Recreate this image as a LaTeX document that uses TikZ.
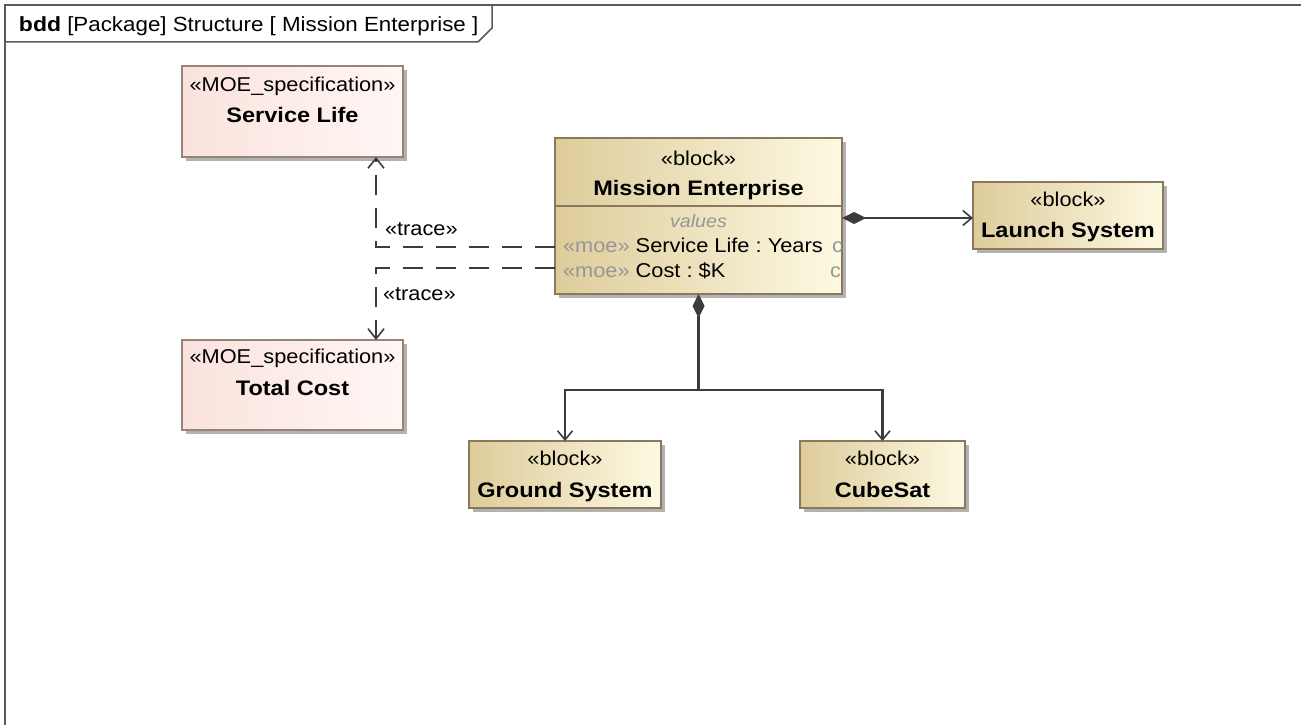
\documentclass[tikz,border=0pt]{standalone}
\usepackage{fontspec}
\setmainfont{Liberation Sans}[FakeStretch=1.09,BoldFeatures={FakeStretch=1.12}]
\frenchspacing
\usetikzlibrary{arrows.meta,shadows}
\definecolor{blockL}{RGB}{222,204,155}
\definecolor{blockR}{RGB}{253,249,226}
\definecolor{blockEdge}{RGB}{138,120,92}
\definecolor{moeL}{RGB}{250,226,220}
\definecolor{moeR}{RGB}{255,247,245}
\definecolor{moeEdge}{RGB}{150,132,120}
\definecolor{lineC}{RGB}{60,60,60}
\definecolor{greyTxt}{RGB}{150,150,150}
\definecolor{frameC}{RGB}{90,90,90}
\begin{document}
\begin{tikzpicture}[x=1pt,y=-1pt,
  every node/.style={inner sep=0pt,outer sep=0pt},
  boxshadow/.style={drop shadow={shadow xshift=4pt,shadow yshift=-4pt,fill=black!30,opacity=1}},
  blockbox/.style={draw=blockEdge,line width=1.4pt,left color=blockL,right color=blockR,boxshadow,anchor=north west},
  moebox/.style={draw=moeEdge,line width=1.4pt,left color=moeL,right color=moeR,boxshadow,anchor=north west},
  stereo/.style={font=\fontsize{20}{24}\selectfont,anchor=base},
  bname/.style={font=\fontsize{21}{25}\selectfont\bfseries,anchor=base},
  rowtxt/.style={font=\fontsize{20}{24}\selectfont,anchor=base west},
  comp/.style={draw=lineC,line width=2.2pt,{Diamond[length=24pt,width=12pt,fill=lineC]}-{Straight Barb[length=9pt,width=15pt,line width=1.6pt]}},
  compstart/.style={draw=lineC,line width=2.2pt,{Diamond[length=24pt,width=12pt,fill=lineC]}-},
  partarrow/.style={draw=lineC,line width=2.2pt,-{Straight Barb[length=9pt,width=15pt,line width=1.6pt]}},
  traceline/.style={draw=lineC,line width=2pt,dash pattern=on 20pt off 13pt,-{Straight Barb[length=10pt,width=16pt,line width=1.6pt]}},
  tracelbl/.style={font=\fontsize{20}{24}\selectfont,anchor=base west}]
\useasboundingbox (0,0) rectangle (1301,725);
\clip (0,0) rectangle (1301,725);
\fill[white] (0,0) rectangle (1301,725);
% frame
\draw[frameC,line width=1.8pt] (5,740) -- (5,5) -- (1310,5);
\draw[frameC,line width=1.5pt] (5,42) -- (478,42) -- (492,28) -- (492,5);
\node[font=\fontsize{20.5}{24}\selectfont,anchor=base west] (title) at (19,32)
  {\textbf{bdd} [Package] Structure [ Mission Enterprise ]};
% boxes
\node[moebox,minimum width=221pt,minimum height=91pt] (servlife) at (182,66) {};
\node[moebox,minimum width=221pt,minimum height=90pt] (totalcost) at (182,340) {};
\node[blockbox,minimum width=287pt,minimum height=156pt] (me) at (555,138) {};
\node[blockbox,minimum width=190pt,minimum height=67pt] (launch) at (973,182) {};
\node[blockbox,minimum width=192pt,minimum height=67pt] (ground) at (469,441) {};
\node[blockbox,minimum width=165pt,minimum height=67pt] (cubesat) at (800,441) {};
% compartment line
\draw[blockEdge,line width=1.2pt] (me.west |- 0,206) -- (me.east |- 0,206);
% texts
\node[stereo] (slst) at (servlife.center |- 0,92) {«MOE\_specification»};
\node[bname] (slnm) at (servlife.center |- 0,122) {Service Life};
\node[stereo] (tcst) at (totalcost.center |- 0,363) {«MOE\_specification»};
\node[bname] (tcnm) at (totalcost.center |- 0,395) {Total Cost};
\node[stereo] (mest) at (me.center |- 0,165) {«block»};
\node[bname] (menm) at (me.center |- 0,195) {Mission Enterprise};
\node[font=\fontsize{18}{22}\selectfont\itshape,text=greyTxt,anchor=base] (meval) at (me.center |- 0,227) {values};
\node[rowtxt] (row1) at (563,252) {\textcolor{greyTxt}{«moe»} Service Life : Years};
\node[rowtxt] (row2) at (563,277) {\textcolor{greyTxt}{«moe»} Cost : \$K};
\begin{scope}
\clip (555,206) rectangle (842,294);
\node[rowtxt,text=greyTxt] (row1c) at (832,252) {c};
\node[rowtxt,text=greyTxt] (row2c) at (830,277) {c};
\end{scope}
\node[stereo] (lsst) at (launch.center |- 0,206) {«block»};
\node[bname] (lsnm) at (launch.center |- 0,237) {Launch System};
\node[stereo] (gsst) at (ground.center |- 0,465) {«block»};
\node[bname] (gsnm) at (ground.center |- 0,497) {Ground System};
\node[stereo] (csst) at (cubesat.center |- 0,465) {«block»};
\node[bname] (csnm) at (cubesat.center |- 0,497) {CubeSat};
% connectors
\coordinate (split) at (me.south |- 0,390);
\coordinate (t1) at (376,247);
\coordinate (t2) at (376,268);
\draw[comp] (me.east |- 0,218) -- (launch.west |- 0,218);
\draw[compstart] (me.south) -- (split);
\draw[partarrow] (split) -| (ground.north);
\draw[partarrow] (split) -| (cubesat.north);
\draw[traceline] (me.west |- t1) -- (t1) -- (t1 |- servlife.south);
\draw[traceline] (me.west |- t2) -- (t2) -- (t2 |- totalcost.north);
\node[tracelbl] (tr1) at (385,235) {«trace»};
\node[tracelbl] (tr2) at (383,300) {«trace»};
\end{tikzpicture}
\end{document}
